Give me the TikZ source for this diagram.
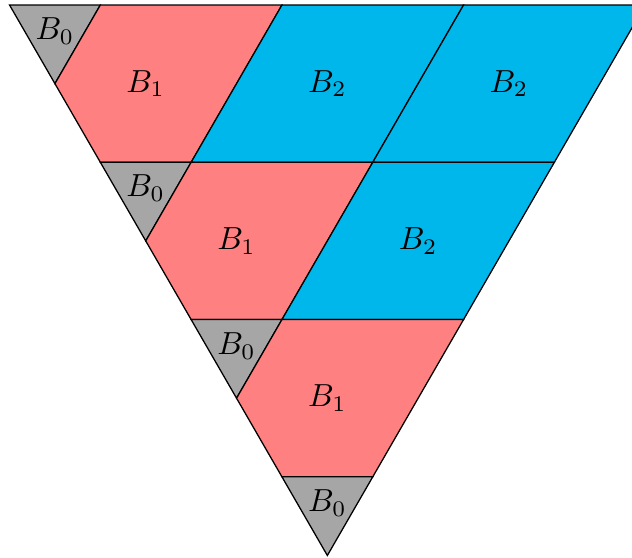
\documentclass[tikz,border=0pt]{standalone}
\definecolor{bcyan}{RGB}{0,183,235}
\begin{document}
\begin{tikzpicture}[x=1cm, y=0.866cm,
    bzero/.style={fill=gray!70, draw=black},
    bone/.style={fill=red!50, draw=black},
    btwo/.style={fill=bcyan, draw=black}]
  \useasboundingbox (-0.105,0.0635) rectangle (6.855,-7.02);
  \clip (-0.105,0.0635) rectangle (6.855,-7.02);

  % first band
  \begin{scope}
    \filldraw[bzero] (0,0) -- (1,0) -- (0.5,-1) -- cycle;
    \filldraw[bone] (1,0) -- (3,0) -- (2,-2) -- (1,-2) -- (0.5,-1) -- cycle;
    \filldraw[btwo] (3,0) -- (5,0) -- (4,-2) -- (2,-2) -- cycle;
    \filldraw[btwo] (5,0) -- (7,0) -- (6,-2) -- (4,-2) -- cycle;
    \node (zeroa) at (0.5,-0.333) {$B_0$};
    \node (onea) at (1.5,-1) {$B_1$};
    \node (twoa) at (3.5,-1) {$B_2$};
    \node (twob) at (5.5,-1) {$B_2$};
  \end{scope}

  % second band
  \begin{scope}[shift={(1,-2)}]
    \filldraw[bzero] (0,0) -- (1,0) -- (0.5,-1) -- cycle;
    \filldraw[bone] (1,0) -- (3,0) -- (2,-2) -- (1,-2) -- (0.5,-1) -- cycle;
    \filldraw[btwo] (3,0) -- (5,0) -- (4,-2) -- (2,-2) -- cycle;
    \node (zerob) at (0.5,-0.333) {$B_0$};
    \node (oneb) at (1.5,-1) {$B_1$};
    \node (twoc) at (3.5,-1) {$B_2$};
  \end{scope}

  % third band
  \begin{scope}[shift={(2,-4)}]
    \filldraw[bzero] (0,0) -- (1,0) -- (0.5,-1) -- cycle;
    \filldraw[bone] (1,0) -- (3,0) -- (2,-2) -- (1,-2) -- (0.5,-1) -- cycle;
    \node (zeroc) at (0.5,-0.333) {$B_0$};
    \node (onec) at (1.5,-1) {$B_1$};
  \end{scope}

  % last tip
  \begin{scope}[shift={(3,-6)}]
    \filldraw[bzero] (0,0) -- (1,0) -- (0.5,-1) -- cycle;
    \node (zerod) at (0.5,-0.333) {$B_0$};
  \end{scope}
\end{tikzpicture}
\end{document}
